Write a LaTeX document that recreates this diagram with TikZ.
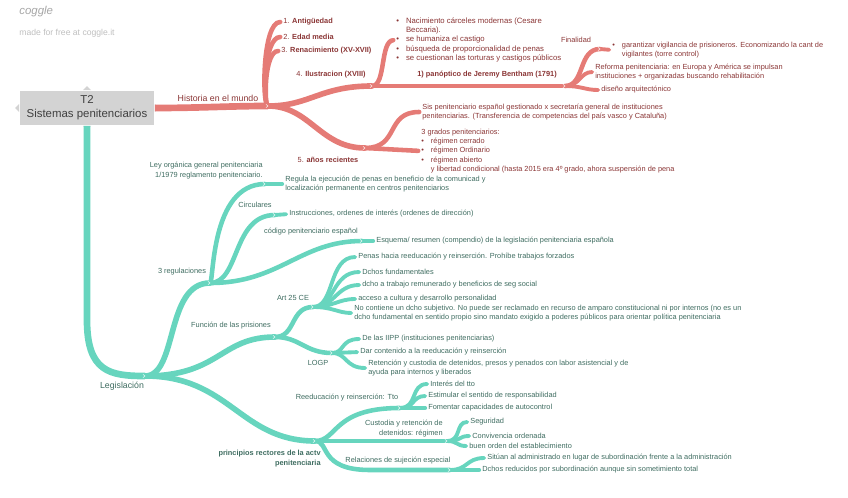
\documentclass[tikz,border=0pt]{standalone}
\usepackage{fontspec}
\setmainfont{Liberation Sans}
\usetikzlibrary{calc}
\definecolor{histline}{HTML}{E57B76}
\definecolor{histtext}{HTML}{8A3535}
\definecolor{legline}{HTML}{67D5BE}
\definecolor{legtext}{HTML}{3E6C60}
\definecolor{rootfill}{HTML}{D3D3D3}
\newcommand{\bul}{\textbullet}
\tikzset{
  every node/.style={inner sep=0pt, font=\fontsize{4.2}{5.3}\selectfont},
  htxt/.style={text=histtext, align=left},
  ltxt/.style={text=legtext, align=left},
  hbr/.style={draw=histline, line cap=round, line width=#1},
  hbr/.default=2.2pt,
  lbr/.style={draw=legline, line cap=round, line width=#1},
  lbr/.default=2.2pt,
  tonode/.style={shorten >=1.6pt},
  toplabel/.style={font=\fontsize{5}{6}\selectfont},
  chev/.style={draw=white, line width=0.35pt, opacity=0.75}
}
\begin{document}
\begin{tikzpicture}[x=0.02cm,y=-0.02cm]
\useasboundingbox (0,0) rectangle (848,497);

% logo
\node (logo) [anchor=west, text=black!35, font=\fontsize{6.5}{7}\selectfont\itshape] at (19,12) {coggle};
\node (free) [anchor=west, text=black!25, font=\fontsize{4.9}{5.5}\selectfont] at (19,33) {made for free at coggle.it};

% root
\node (root) [fill=rootfill, minimum width=2.7cm, minimum height=0.7cm, align=center,
  text=black!75, font=\fontsize{6.5}{8}\selectfont] at (87,108) {T2\\Sistemas penitenciarios};
\fill[rootfill] ($(root.north)+(-4,0)$) -- ($(root.north)+(0,-4)$) -- ($(root.north)+(4,0)$) -- cycle;
\fill[rootfill] ($(root.south)+(-4,0)$) -- ($(root.south)+(0,4)$) -- ($(root.south)+(4,0)$) -- cycle;
\fill[rootfill] ($(root.west)+(0,-4)$) -- ($(root.west)+(-4,0)$) -- ($(root.west)+(0,4)$) -- cycle;
\fill[rootfill] ($(root.east)+(0,-4)$) -- ($(root.east)+(4,0)$) -- ($(root.east)+(0,4)$) -- cycle;

%%% Historia en el mundo
\coordinate (H) at (268,106);
\coordinate (I) at (372,86);
\coordinate (P) at (565,86);
\coordinate (F) at (600,49);
\coordinate (A) at (365,148);

\draw[hbr=3.8pt, line cap=butt] (root.east) .. controls (200,108) and (230,106) .. (H);
\node (hist) [htxt, toplabel] at (218,98) {Historia en el mundo};

\node (ant) [htxt, anchor=west] at (283,22) {1. \textbf{Antigüedad}};
\node (edad) [htxt, anchor=west] at (283,37) {2. \textbf{Edad media}};
\node (ren) [htxt, anchor=west] at (281,51) {3. \textbf{Renacimiento (XV-XVII)}};
\draw[hbr=2.6pt, tonode] (H) .. controls (262,106) and (262,22) .. (ant.west);
\draw[hbr=2.6pt, tonode] (H) .. controls (263,106) and (263,37) .. (edad.west);
\draw[hbr=2.6pt, tonode] (H) .. controls (264,106) and (264,51) .. (ren.west);

\draw[hbr=3.2pt] (H) .. controls (310,106) and (320,86) .. (I);
\node (ilu) [htxt] at (331,75) {4. \textbf{Ilustracion (XVIII)}};
\node (nac) [htxt, anchor=west, font=\fontsize{4.4}{5.3}\selectfont] at (396,40) {\begin{tabular}{@{}l@{\hspace{4pt}}l@{}}
\bul & Nacimiento cárceles modernas (Cesare\\
 & Beccaria).\\
\bul & se humaniza el castigo\\
\bul & búsqueda de proporcionalidad de penas\\
\bul & se cuestionan las torturas y castigos públicos
\end{tabular}};
\draw[hbr=2.6pt, tonode] (I) .. controls (386,86) and (380,41) .. (nac.west);

\draw[hbr=2.8pt] (I) -- (P);
\node (pan) [htxt] at (487,75) {\textbf{1) panóptico de Jeremy Bentham (1791)}};

\draw[hbr=2.6pt] (P) .. controls (585,86) and (578,49) .. (F);
\node (fin) [htxt] at (576,40) {Finalidad};
\node (gar) [htxt, anchor=west] at (612,50) {\begin{tabular}{@{}l@{\hspace{4pt}}l@{}}
\bul & garantizar vigilancia de prisioneros. Economizando la cant de\\
 & vigilantes (torre control)
\end{tabular}};
\draw[hbr, tonode] (F) -- (gar.west);
\node (ref) [htxt, anchor=west] at (595,72) {Reforma penitenciaria: en Europa y América se impulsan\\instituciones + organizadas buscando rehabilitación};
\draw[hbr, tonode] (P) .. controls (580,86) and (580,72) .. (ref.west);
\node (dis) [htxt, anchor=west] at (601,90) {diseño arquitectónico};
\draw[hbr, tonode] (P) .. controls (582,86) and (585,90) .. (dis.west);

\draw[hbr=3.2pt] (H) .. controls (310,106) and (320,148) .. (A);
\node (rec) [htxt] at (328,160) {5. \textbf{años recientes}};
\node (sis) [htxt, anchor=west] at (422,112) {Sis penitenciario español gestionado x secretaría general de instituciones\\penitenciarias. (Transferencia de competencias del país vasco y Cataluña)};
\draw[hbr=2.6pt, tonode] (A) .. controls (400,148) and (385,112) .. (sis.west);
\node (gra) [htxt, anchor=west] at (421,151) {\begin{tabular}{@{}l@{\hspace{4pt}}l@{}}
\multicolumn{2}{@{}l@{}}{3 grados penitenciarios:}\\
\bul & régimen cerrado\\
\bul & régimen Ordinario\\
\bul & régimen abierto\\
 & y libertad condicional (hasta 2015 era 4º grado, ahora suspensión de pena
\end{tabular}};
\draw[hbr=2.6pt, tonode] (A) -- (gra.west);

%%% Legislación
\coordinate (L) at (145,376);
\coordinate (R3) at (210,283);
\coordinate (FP) at (275,337);
\coordinate (PR) at (315,441);
\coordinate (LO) at (265,184);
\coordinate (CI) at (275,215);
\coordinate (CP) at (362,241);
\coordinate (AR) at (313,307);
\coordinate (LG) at (332,353);
\coordinate (RT) at (400,408);
\coordinate (CU) at (447,441);
\coordinate (RS) at (450,470);

\draw[lbr=3.8pt, line cap=butt] (root.south) -- (87,320) .. controls (87,372) and (110,376) .. (L);
\node (leg) [ltxt, toplabel] at (122,386) {Legislación};

\draw[lbr=3.2pt] (L) .. controls (178,376) and (165,283) .. (R3);
\node (reg) [ltxt] at (182,272) {3 regulaciones};
\draw[lbr=3.2pt] (L) .. controls (220,376) and (220,337) .. (FP);
\node (fun) [ltxt] at (231,326) {Función de las prisiones};
\draw[lbr=3.2pt] (L) .. controls (230,376) and (240,441) .. (PR);
\node (pri) [ltxt, align=right, anchor=north east] at (321,450) {\textbf{principios rectores de la actv}\\\textbf{penitenciaria}};

% 3 regulaciones
\draw[lbr=2.6pt] (R3) .. controls (214,283) and (210,184) .. (LO);
\node (loa) [ltxt, align=right, anchor=south east] at (263,179) {Ley orgánica general penitenciaria\\1/1979 reglamento penitenciario.};
\node (regu) [ltxt, anchor=west] at (285,184) {Regula la ejecución de penas en beneficio de la comunicad y\\localización permanente en centros penitenciarios};
\draw[lbr, tonode] (LO) -- (regu.west);
\draw[lbr=2.6pt] (R3) .. controls (240,283) and (232,215) .. (CI);
\node (cir) [ltxt] at (255,205) {Circulares};
\node (ins) [ltxt, anchor=west] at (289,214) {Instrucciones, ordenes de interés (ordenes de dirección)};
\draw[lbr, tonode] (CI) -- (ins.west);
\draw[lbr=2.6pt] (R3) .. controls (280,283) and (300,241) .. (CP);
\node (cod) [ltxt] at (311,232) {código penitenciario español};
\node (esq) [ltxt, anchor=west] at (376,241) {Esquema/ resumen (compendio) de la legislación penitenciaria española};
\draw[lbr, tonode] (CP) -- (esq.west);

% Función de las prisiones
\draw[lbr=2.6pt] (FP) .. controls (296,337) and (290,307) .. (AR);
\node (art) [ltxt] at (293,298) {Art 25 CE};
\node (pen) [ltxt, anchor=west] at (358,257) {Penas hacia reeducación y reinserción. Prohíbe trabajos forzados};
\node (dch) [ltxt, anchor=west] at (362,272) {Dchos fundamentales};
\node (tra) [ltxt, anchor=west] at (362,285) {dcho a trabajo remunerado y beneficios de seg social};
\node (acc) [ltxt, anchor=west] at (358,299) {acceso a cultura y desarrollo personalidad};
\node (noc) [ltxt, anchor=west] at (354,313) {No contiene un dcho subjetivo. No puede ser reclamado en recurso de amparo constitucional ni por internos (no es un\\dcho fundamental en sentido propio sino mandato exigido a poderes públicos para orientar política penitenciaria};
\draw[lbr, tonode] (AR) .. controls (335,307) and (328,257) .. (pen.west);
\draw[lbr, tonode] (AR) .. controls (335,307) and (332,272) .. (dch.west);
\draw[lbr, tonode] (AR) .. controls (335,307) and (336,285) .. (tra.west);
\draw[lbr, tonode] (AR) .. controls (333,307) and (338,299) .. (acc.west);
\draw[lbr, tonode] (AR) .. controls (333,307) and (338,313) .. (noc.west);

\draw[lbr=2.6pt] (FP) .. controls (300,337) and (305,353) .. (LG);
\node (logp) [ltxt] at (318,363) {LOGP};
\node (iipp) [ltxt, anchor=west] at (362,339) {De las IIPP (instituciones penitenciarias)};
\node (dar) [ltxt, anchor=west] at (360,352) {Dar contenido a la reeducación y reinserción};
\node (ret) [ltxt, anchor=west] at (368,368) {Retención y custodia de detenidos, presos y penados con labor asistencial y de\\ayuda para internos y liberados};
\draw[lbr, tonode] (LG) .. controls (345,353) and (340,339) .. (iipp.west);
\draw[lbr, tonode] (LG) -- (dar.west);
\draw[lbr, tonode] (LG) .. controls (347,353) and (345,368) .. (ret.west);

% principios rectores
\draw[lbr=2.6pt] (PR) .. controls (338,441) and (332,408) .. (RT);
\node (tto) [ltxt] at (347,398) {Reeducación y reinserción: Tto};
\node (int) [ltxt, anchor=west] at (430,384) {Interés del tto};
\node (est) [ltxt, anchor=west] at (428,396) {Estimular el sentido de responsabilidad};
\node (fom) [ltxt, anchor=west] at (428,408) {Fomentar capacidades de autocontrol};
\draw[lbr, tonode] (RT) .. controls (418,408) and (410,384) .. (int.west);
\draw[lbr, tonode] (RT) .. controls (415,408) and (412,396) .. (est.west);
\draw[lbr, tonode] (RT) -- (fom.west);

\draw[lbr=2.6pt] (PR) -- (CU);
\node (cus) [ltxt, align=right, anchor=south east] at (443,437) {Custodia y retención de\\detenidos: régimen};
\node (seg) [ltxt, anchor=west] at (470,422) {Seguridad};
\node (con) [ltxt, anchor=west] at (472,436) {Convivencia ordenada};
\node (bue) [ltxt, anchor=west] at (469,446) {buen orden del establecimiento};
\draw[lbr, tonode] (CU) .. controls (462,441) and (455,422) .. (seg.west);
\draw[lbr, tonode] (CU) .. controls (462,441) and (458,436) .. (con.west);
\draw[lbr, tonode] (CU) .. controls (458,441) and (456,446) .. (bue.west);

\draw[lbr=2.6pt] (PR) .. controls (330,441) and (318,470) .. (370,470) -- (RS);
\node (suj) [ltxt] at (398,461) {Relaciones de sujeción especial};
\node (sit) [ltxt, anchor=west] at (487,458) {Sitúan al administrado en lugar de subordinación frente a la administración};
\node (red) [ltxt, anchor=west] at (482,470) {Dchos reducidos por subordinación aunque sin sometimiento total};
\draw[lbr, tonode] (RS) .. controls (468,470) and (466,458) .. (sit.west);
\draw[lbr, tonode] (RS) -- (red.west);

% end marks
\foreach \c in {H,I,P,F,A,L,R3,FP,PR,LO,CI,CP,AR,LG,RT,CU,RS}
  \draw[chev] ($(\c)+(-2,-1.6)$) -- (\c) -- ($(\c)+(-2,1.6)$);
\end{tikzpicture}
\end{document}
